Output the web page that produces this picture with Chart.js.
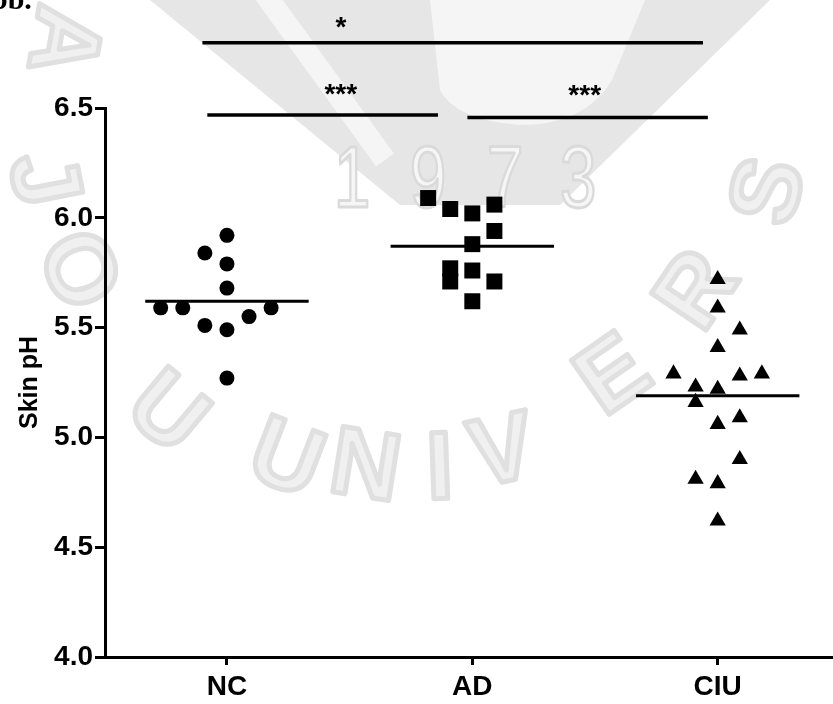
<!DOCTYPE html>
<html><head><meta charset="utf-8">
<script src="https://cdn.jsdelivr.net/npm/chart.js@4"></script>
<style>html,body{margin:0;padding:0;background:#fff;} canvas{display:block}</style>
</head><body>
<canvas id="c" width="833" height="704"></canvas>
<script>
// ---- data ----
const categories = ['NC', 'AD', 'CIU'];
const yTickValues = [4.0, 4.5, 5.0, 5.5, 6.0, 6.5];
const ncValues  = [5.92, 5.84, 5.79, 5.68, 5.59, 5.59, 5.59, 5.55, 5.51, 5.49, 5.27];
const ncJitter  = [0, -0.09, 0, 0, -0.27, -0.18, 0.18, 0.09, -0.09, 0, 0];
const adValues  = [6.09, 6.04, 6.02, 6.06, 5.94, 5.88, 5.77, 5.76, 5.71, 5.71, 5.62];
const adJitter  = [-0.18, -0.09, 0, 0.09, 0.09, 0, -0.09, 0, -0.09, 0.09, 0];
const ciuValues = [5.72, 5.59, 5.49, 5.41, 5.29, 5.28, 5.29, 5.23, 5.22, 5.16, 5.09, 5.06, 4.90, 4.81, 4.79, 4.62];
const ciuJitter = [0, 0, 0.09, 0, -0.18, 0.09, 0.18, -0.09, 0, -0.09, 0.09, 0, 0.09, -0.09, 0, 0];
const groupMeans = [5.62, 5.87, 5.19];
// significance brackets (x in category units, y in pH units)
const sigFrom   = [0.90, 0.92, 1.98];
const sigTo     = [2.94, 1.86, 2.96];
const sigY      = [6.797, 6.468, 6.457];
const sigLabels = ['*', '***', '***'];
const sigLabelX = [1.465, 1.464, 2.458];
const sigLabelY = [6.898, 6.594, 6.590];

// ---- faint background seal (decoration only) ----
const sealText = ['A', 'J', 'O', 'U', 'U', 'N', 'I', 'V', 'E', 'R', 'S'];
const sealYear = ['1', '9', '7', '3'];

const FONT = '"Liberation Sans", Arial, Helvetica, sans-serif';
const MEAN_HALF = 0.333;

function pts(vals, jit, idx) { return vals.map((v, i) => ({x: idx + 1 + jit[i], y: v})); }
function meanLine(i) { return [{x: i + 1 - MEAN_HALF, y: groupMeans[i]}, {x: i + 1 + MEAN_HALF, y: groupMeans[i]}]; }

const markerBase = {backgroundColor: '#000', borderColor: '#000', borderWidth: 0, showLine: false};

const watermark = {
  id: 'watermark',
  beforeDraw(chart) {
    const ctx = chart.ctx;
    const letterPos = [[60, 40, 100], [40, 180, 79], [75, 272, 65], [165, 415, 40], [285, 462, 21],
                       [365, 470, 9], [440, 472, -2], [503, 455, -12], [615, 378, -35], [700, 292, -56], [772, 192, -76]];
    ctx.save();
    ctx.fillStyle = '#fff';
    ctx.fillRect(0, 0, chart.width, chart.height);
    // V-shaped emblem at the top
    ctx.fillStyle = '#e6e6e6';
    ctx.beginPath();
    ctx.moveTo(150, 0); ctx.lineTo(770, 0); ctx.lineTo(560, 205); ctx.lineTo(400, 205); ctx.closePath();
    ctx.fill();
    ctx.fillStyle = '#f5f5f5';
    ctx.beginPath();
    ctx.moveTo(430, 0); ctx.lineTo(645, 0); ctx.lineTo(612, 80);
    ctx.quadraticCurveTo(585, 125, 520, 125);
    ctx.quadraticCurveTo(455, 120, 440, 90);
    ctx.closePath(); ctx.fill();
    ctx.strokeStyle = '#f5f5f5'; ctx.lineWidth = 22;
    ctx.beginPath(); ctx.moveTo(262, -10); ctx.lineTo(385, 160); ctx.stroke();
    // ring letters
    ctx.font = 'bold 96px ' + FONT;
    ctx.textAlign = 'center'; ctx.textBaseline = 'middle';
    ctx.lineJoin = 'round';
    sealText.forEach((ch, i) => {
      const [x, y, r] = letterPos[i];
      ctx.save();
      ctx.translate(x, y); ctx.rotate(r * Math.PI / 180);
      ctx.fillStyle = '#f0f0f0'; ctx.fillText(ch, 0, 0);
      ctx.strokeStyle = '#e0e0e0'; ctx.lineWidth = 5; ctx.strokeText(ch, 0, 0);
      ctx.restore();
    });
    // year
    const yearX = [352, 428, 505, 578];
    ctx.font = '88px ' + FONT;
    sealYear.forEach((d, i) => {
      ctx.save();
      ctx.translate(yearX[i], 183); ctx.scale(0.75, 1);
      ctx.fillStyle = '#f6f6f6'; ctx.fillText(d, 0, 0);
      ctx.strokeStyle = '#dadada'; ctx.lineWidth = 3; ctx.strokeText(d, 0, 0);
      ctx.restore();
    });
    ctx.restore();
  }
};

const extras = {
  id: 'extras',
  afterDraw(chart) {
    const ctx = chart.ctx, xs = chart.scales.x, ys = chart.scales.y;
    ctx.save();
    // partially cut caption at top-left
    ctx.fillStyle = '#000';
    ctx.font = 'bold 30px "Liberation Serif", "Times New Roman", serif';
    ctx.textAlign = 'left'; ctx.textBaseline = 'alphabetic';
    ctx.fillText('bb.', -9, 9);
    // significance brackets
    ctx.strokeStyle = '#000'; ctx.lineWidth = 3.5; ctx.lineCap = 'butt';
    for (let i = 0; i < sigFrom.length; i++) {
      const y = ys.getPixelForValue(sigY[i]);
      ctx.beginPath();
      ctx.moveTo(xs.getPixelForValue(sigFrom[i]), y);
      ctx.lineTo(xs.getPixelForValue(sigTo[i]), y);
      ctx.stroke();
      ctx.font = 'bold 28px ' + FONT;
      ctx.textAlign = 'center';
      ctx.fillText(sigLabels[i], xs.getPixelForValue(sigLabelX[i]), ys.getPixelForValue(sigLabelY[i]) + 0.56 * 28);
    }
    ctx.restore();
  }
};

new Chart(document.getElementById('c'), {
  type: 'scatter',
  data: {
    datasets: [
      Object.assign({label: 'NC', data: pts(ncValues, ncJitter, 0), pointStyle: 'circle', pointRadius: 7.5}, markerBase),
      Object.assign({label: 'AD', data: pts(adValues, adJitter, 1), pointStyle: 'rect', pointRadius: 11.3}, markerBase),
      Object.assign({label: 'CIU', data: pts(ciuValues, ciuJitter, 2), pointStyle: 'triangle', pointRadius: 9.4}, markerBase),
      {label: 'mNC', data: meanLine(0), showLine: true, borderColor: '#000', borderWidth: 3, pointRadius: 0},
      {label: 'mAD', data: meanLine(1), showLine: true, borderColor: '#000', borderWidth: 3, pointRadius: 0},
      {label: 'mCIU', data: meanLine(2), showLine: true, borderColor: '#000', borderWidth: 3, pointRadius: 0}
    ]
  },
  options: {
    responsive: false,
    animation: false,
    events: [],
    layout: {autoPadding: false, padding: {top: 108, right: 0, left: 0, bottom: 0}},
    plugins: {legend: {display: false}, tooltip: {enabled: false}},
    scales: {
      x: {
        type: 'linear', min: 0.503, max: 3.47,
        afterFit: s => { s.height = 47; s.paddingLeft = 0; s.paddingRight = 0; },
        afterBuildTicks: s => { s.ticks = categories.map((c, i) => ({value: i + 1})); },
        grid: {drawOnChartArea: false, drawTicks: true, tickLength: 8, color: '#000', lineWidth: 3},
        border: {display: true, color: '#000', width: 3},
        ticks: {
          callback: v => categories[Math.round(v) - 1] || '',
          color: '#000', font: {family: FONT, weight: 'bold', size: 28},
          padding: 5, maxRotation: 0, autoSkip: false
        }
      },
      y: {
        type: 'linear', min: 4.0, max: 6.5,
        afterFit: s => { s.width = 105; },
        afterBuildTicks: s => { s.ticks = yTickValues.map(v => ({value: v})); },
        grid: {drawOnChartArea: false, drawTicks: true, tickLength: 10, color: '#000', lineWidth: 3},
        border: {display: true, color: '#000', width: 3},
        ticks: {
          callback: v => v.toFixed(1),
          color: '#000', font: {family: FONT, weight: 'bold', size: 28},
          padding: 2
        },
        title: {display: true, text: 'Skin pH', color: '#000', font: {family: FONT, weight: 'bold', size: 25}, padding: {top: 15, bottom: 0}}
      }
    }
  },
  plugins: [watermark, extras]
});
</script>
</body></html>
